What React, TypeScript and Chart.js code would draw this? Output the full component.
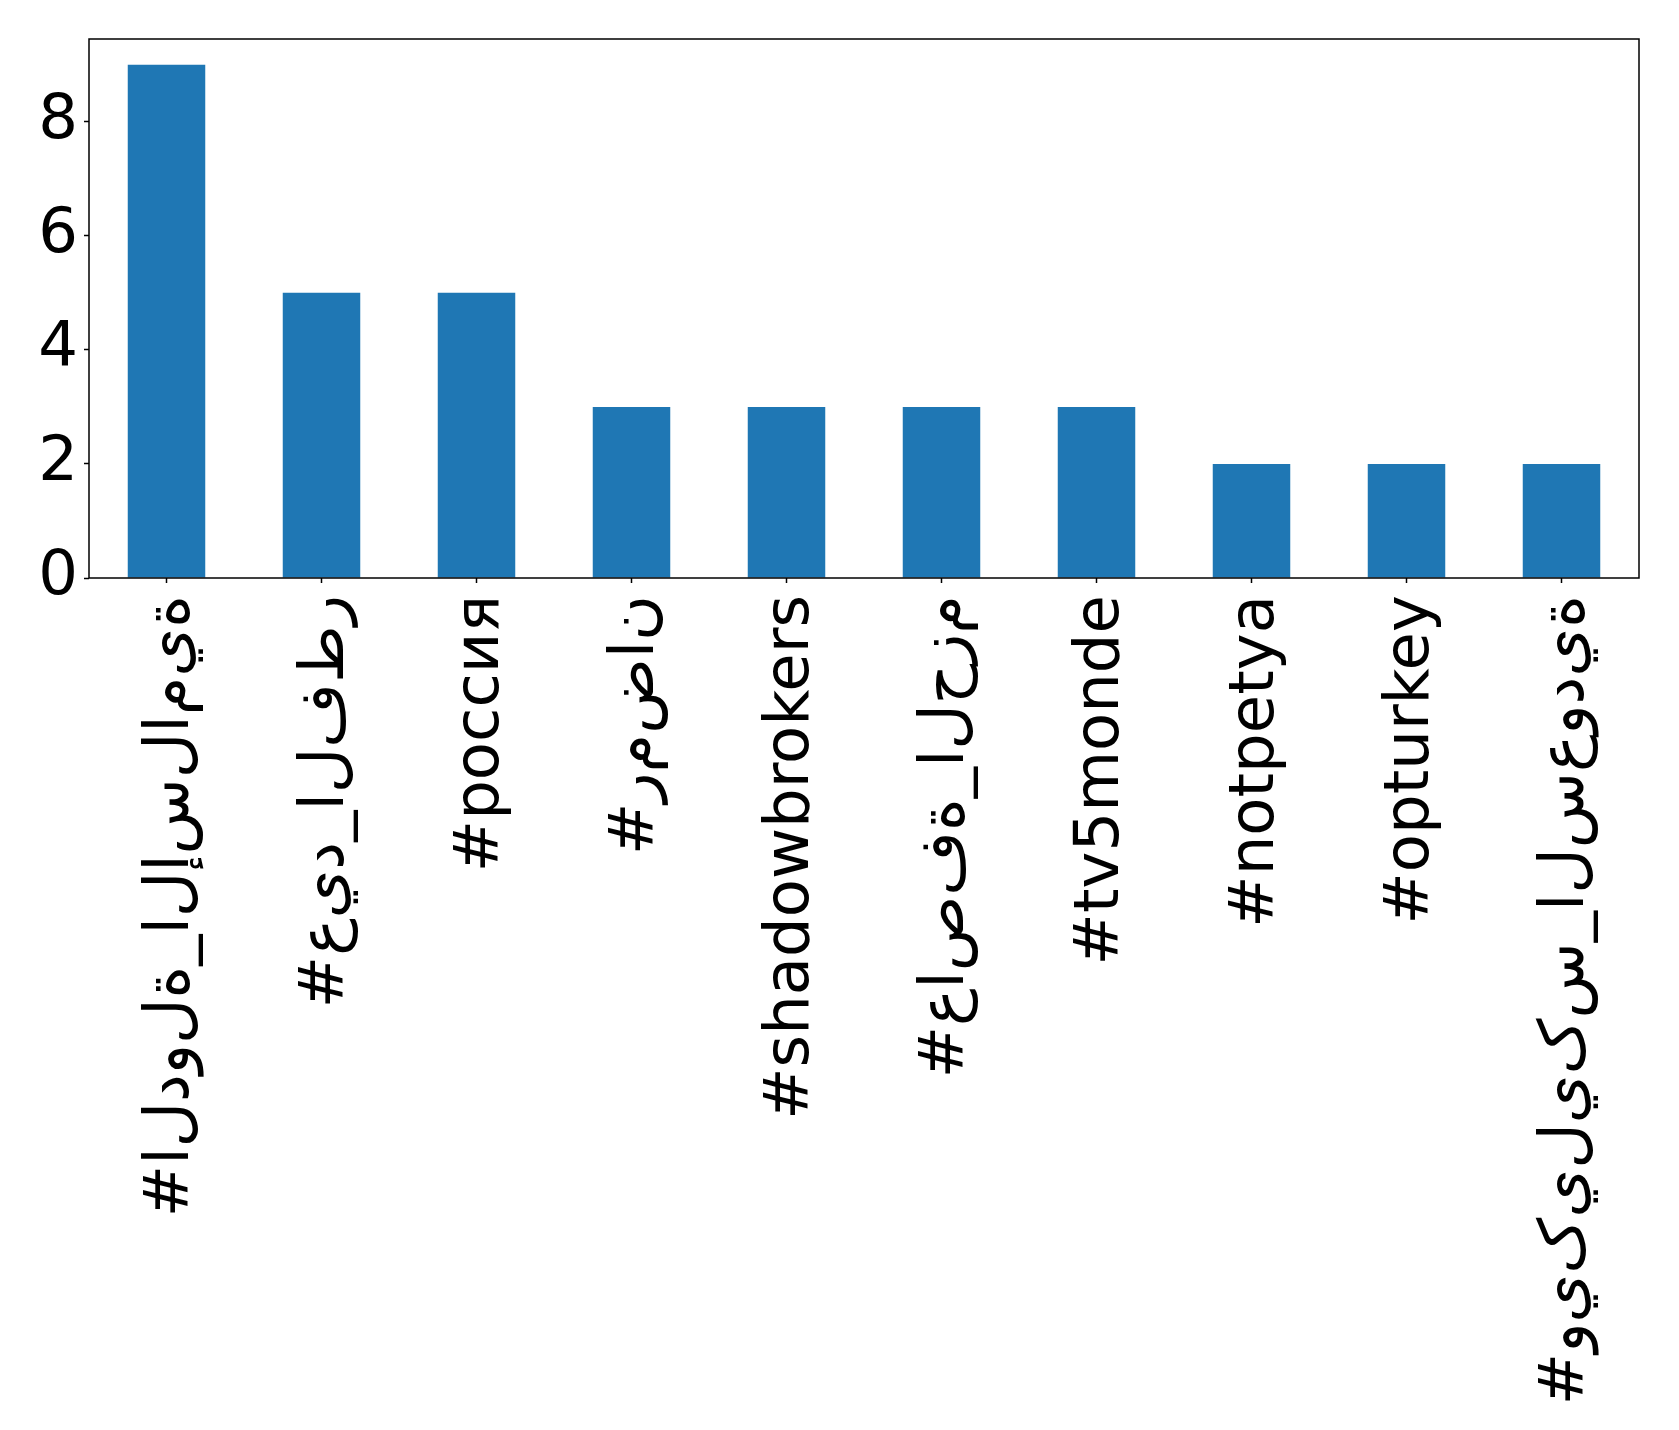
import React, { useEffect, useRef } from "react";
import { Chart, registerables } from "chart.js";

Chart.register(...registerables);

const categories: string[] = [
  "#الدولة_الإسلامية",
  "#عيد_الفطر",
  "#россия",
  "#رمضان",
  "#shadowbrokers",
  "#عاصفة_الحزم",
  "#tv5monde",
  "#notpetya",
  "#opturkey",
  "#ويکيليکس_السعودية",
];
const counts: number[] = [9, 5, 5, 3, 3, 3, 3, 2, 2, 2];
const yTickValues: number[] = [0, 2, 4, 6, 8];
const yMax = 9.45;

const W = 1679;
const H = 1430;
const FONT = "'DejaVu Sans', sans-serif";
const FONT_SIZE = 62.5;
const AREA = { left: 89, right: 1639, top: 39, bottom: 578 };

// Mimic the reference's left-to-right, unjoined rendering of Arabic letters
function displayLabel(label: string): string {
  if (/[\u0600-\u06FF]/.test(label)) {
    return "\u202D" + Array.from(label).join("\u200C") + "\u202C";
  }
  return label;
}

const framePlugin = {
  id: "frame",
  afterDraw(chart: any) {
    const { ctx, chartArea } = chart;
    ctx.save();
    ctx.strokeStyle = "#000";
    ctx.lineWidth = 1.5;
    ctx.strokeRect(chartArea.left, chartArea.top, chartArea.right - chartArea.left, chartArea.bottom - chartArea.top);
    ctx.restore();
  },
};

export default function App() {
  const ref = useRef<HTMLCanvasElement>(null);
  useEffect(() => {
    if (!ref.current) return;
    const chart = new Chart(ref.current, {
      type: "bar",
      data: {
        labels: categories,
        datasets: [
          {
            data: counts,
            backgroundColor: "#1f77b4",
            barPercentage: 0.5,
            categoryPercentage: 1,
          },
        ],
      },
      options: {
        responsive: false,
        animation: false,
        devicePixelRatio: 1,
        layout: { padding: { top: 0, right: W - AREA.right, left: 0, bottom: 0 } },
        plugins: { legend: { display: false }, tooltip: { enabled: false } },
        scales: {
          x: {
            offset: true,
            border: { display: false },
            grid: { display: true, drawOnChartArea: false, drawTicks: true, tickLength: 5, tickWidth: 1.5, tickColor: "#000", offset: false },
            ticks: {
              minRotation: 90,
              maxRotation: 90,
              autoSkip: false,
              padding: 12,
              labelOffset: 5,
              color: "#000",
              font: { family: FONT, size: FONT_SIZE },
              callback: (_v: any, i: number) => displayLabel(categories[i]),
            },
            afterFit: (s: any) => {
              s.height = H - AREA.bottom;
            },
          },
          y: {
            min: 0,
            max: yMax,
            border: { display: false },
            grid: { display: true, drawOnChartArea: false, drawTicks: true, tickLength: 5, tickWidth: 1.5, tickColor: "#000" },
            ticks: {
              padding: 6,
              color: "#000",
              font: { family: FONT, size: FONT_SIZE },
            },
            afterBuildTicks: (s: any) => {
              s.ticks = yTickValues.map((v) => ({ value: v }));
            },
            afterFit: (s: any) => {
              s.width = AREA.left;
              s.paddingTop = AREA.top;
              s.paddingBottom = 0;
            },
          },
        },
      },
      plugins: [framePlugin],
    });
    return () => chart.destroy();
  }, []);
  return (
    <div style={{ position: "absolute", left: 0, top: 0, width: W, height: H, background: "#fff" }}>
      <canvas ref={ref} width={W} height={H} style={{ width: W, height: H, display: "block" }} />
    </div>
  );
}
